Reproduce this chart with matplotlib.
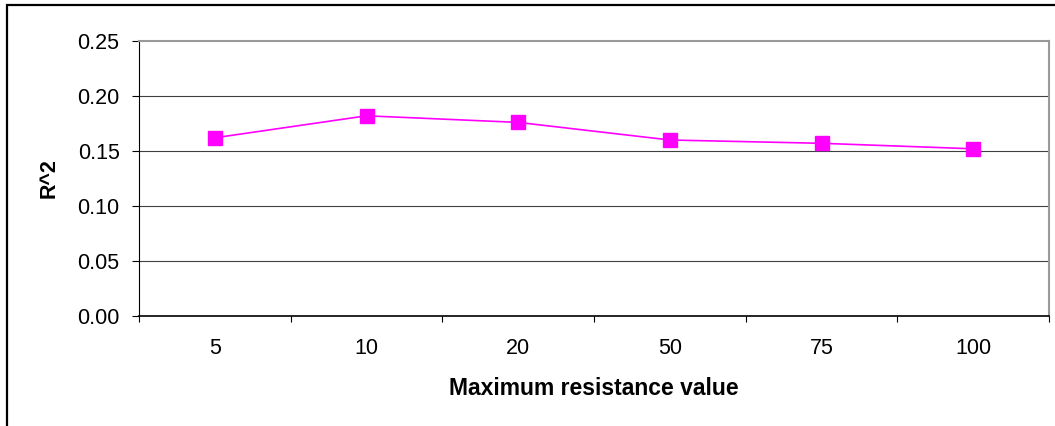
import matplotlib
matplotlib.use("Agg")
import matplotlib.pyplot as plt
from matplotlib.patches import Rectangle
import numpy as np

plt.rcParams['font.family'] = ['Liberation Sans', 'DejaVu Sans']

### Data ###
categories = ["5", "10", "20", "50", "75", "100"]
r2_values = [0.162, 0.182, 0.176, 0.160, 0.157, 0.152]
y_ticks = [0.00, 0.05, 0.10, 0.15, 0.20, 0.25]

fig = plt.figure(figsize=(10.55, 4.26), dpi=100)
ax = fig.add_axes([139 / 1055, 1 - 316 / 426, 910 / 1055, 275 / 426])

# outer chart frame (runs off the right and bottom edge)
fig.patches.append(Rectangle((7 / 1055, -0.2), 1.2, 0.2 + 1 - 5 / 426,
                             transform=fig.transFigure, fill=False,
                             edgecolor='black', linewidth=1.6, zorder=0))

x = np.arange(len(categories))
ax.plot(x, r2_values, color='#FF00FF', linewidth=1.2, marker='s',
        markersize=9.5, markeredgecolor='#FF00FF', zorder=3)

# gridlines
for v in y_ticks[1:-1]:
    ax.axhline(v, color='#404040', linewidth=0.8, zorder=1)

ax.set_xlim(-0.5, len(categories) - 0.5)
ax.set_ylim(0, 0.25)
ax.set_yticks(y_ticks)
ax.set_yticklabels([f"{v:.2f}" for v in y_ticks])
ax.set_xticks(x)
ax.set_xticklabels(categories)
ax.set_xticks(np.arange(len(categories) + 1) - 0.5, minor=True)

ax.tick_params(axis='x', which='major', length=0, pad=16, labelsize=15.5)
ax.tick_params(axis='x', which='minor', length=4.5, width=0.8, direction='out')
ax.tick_params(axis='y', which='major', length=5, width=0.8, pad=9, labelsize=15.5)

ax.spines['top'].set_color('#999999')
ax.spines['right'].set_color('#999999')
ax.spines['top'].set_linewidth(1.5)
ax.spines['right'].set_linewidth(1.5)
ax.spines['left'].set_linewidth(0.8)
ax.spines['bottom'].set_linewidth(1.2)

ax.set_xlabel('Maximum resistance value', fontsize=16.5, fontweight='bold', labelpad=13)
ax.set_ylabel('R^2', fontsize=15.5, fontweight='bold', labelpad=13)

fig.savefig('out.png', dpi=100)
